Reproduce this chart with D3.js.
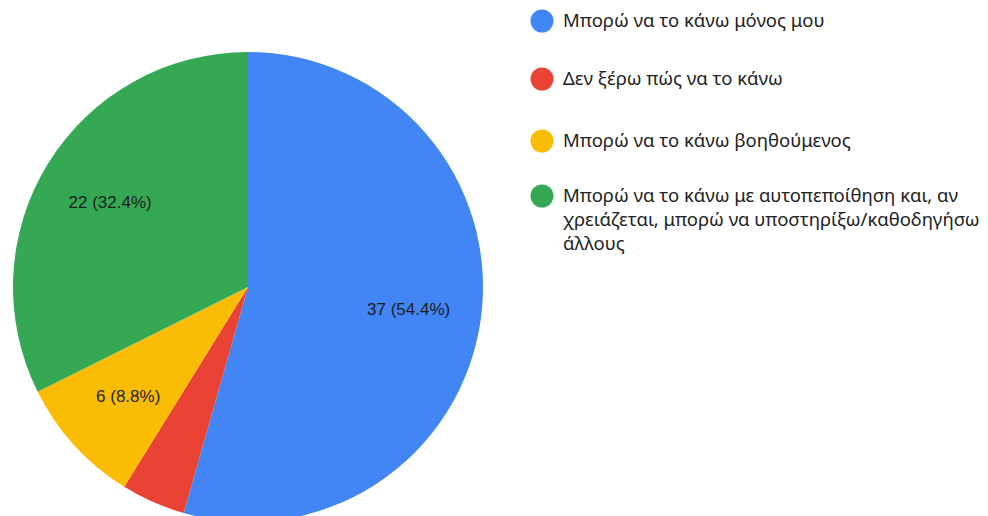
<!DOCTYPE html>
<html lang="el">
<head>
<meta charset="UTF-8">
<title>Pie</title>
<script src="https://d3js.org/d3.v7.min.js"></script>
<style>
html,body{margin:0;padding:0;background:#fff}
svg{display:block}
.slice-label{font-family:"Liberation Sans",Arial,sans-serif;font-size:17px;fill:#1f1f1f}
.legend text{font-family:"Noto Sans",sans-serif;font-size:18.5px;fill:#222}
</style>
</head>
<body>
<div id="chart"></div>
<script>
var categories = [
  'Μπορώ να το κάνω μόνος μου',
  'Δεν ξέρω πώς να το κάνω',
  'Μπορώ να το κάνω βοηθούμενος',
  'Μπορώ να το κάνω με αυτοπεποίθηση και, αν χρειάζεται, μπορώ να υποστηρίξω/καθοδηγήσω άλλους'
];
var legendLines = [
  ['Μπορώ να το κάνω μόνος μου'],
  ['Δεν ξέρω πώς να το κάνω'],
  ['Μπορώ να το κάνω βοηθούμενος'],
  ['Μπορώ να το κάνω με αυτοπεποίθηση και, αν', 'χρειάζεται, μπορώ να υποστηρίξω/καθοδηγήσω', 'άλλους']
];
var counts = [37, 3, 6, 22];
var colors = ['#4285f4', '#ea4335', '#fbbc04', '#34a853'];

var W = 988, H = 516;
var cx = 248, cy = 287, r = 235;

var svg = d3.select('#chart').append('svg').attr('width', W).attr('height', H);

var total = d3.sum(counts);
var pie = d3.pie().sort(null).value(function(d) { return d; });
var arcs = pie(counts);
var arc = d3.arc().innerRadius(0).outerRadius(r);
var labelArc = d3.arc().innerRadius(r * 0.69).outerRadius(r * 0.69);

var g = svg.append('g').attr('transform', 'translate(' + cx + ',' + cy + ')');

g.selectAll('path').data(arcs).join('path')
  .attr('d', arc)
  .attr('fill', function(d, i) { return colors[i]; });

// labels only on slices big enough
g.selectAll('text').data(arcs.filter(function(d) { return d.data / total > 0.05; })).join('text')
  .attr('class', 'slice-label')
  .attr('transform', function(d) { return 'translate(' + labelArc.centroid(d) + ')'; })
  .attr('text-anchor', 'middle')
  .attr('dy', '0.35em')
  .text(function(d) { return d.data + ' (' + (d.data / total * 100).toFixed(1) + '%)'; });

// Legend
var legendY = [21, 79, 141, 196];
var leg = svg.append('g').attr('class', 'legend');
var items = leg.selectAll('g').data(categories).join('g')
  .attr('transform', function(d, i) { return 'translate(542,' + legendY[i] + ')'; });

items.append('circle').attr('r', 11.5).attr('fill', function(d, i) { return colors[i]; });

items.append('text')
  .each(function(d, i) {
    var t = d3.select(this);
    legendLines[i].forEach(function(line, j) {
      t.append('tspan').attr('x', 21).attr('y', j * 24).attr('dy', '0.35em').text(line);
    });
  });
</script>
</body>
</html>
